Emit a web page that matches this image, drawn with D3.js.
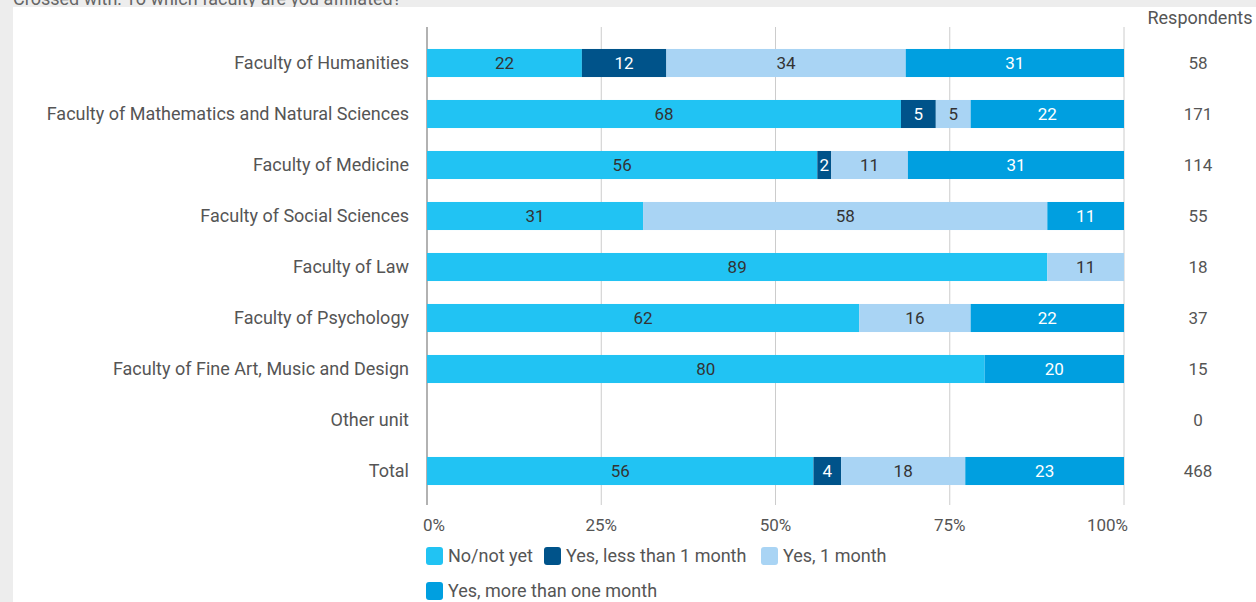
<!DOCTYPE html>
<html><head><meta charset="utf-8">
<script src="https://cdn.jsdelivr.net/npm/d3@7/dist/d3.min.js"></script>
<style>
html,body{margin:0;padding:0;background:#ededed;}
svg{display:block;font-family:Roboto,"Noto Sans",sans-serif;}
</style></head>
<body>
<svg id="chart" width="1256" height="602"></svg>
<script>
const categories = ["Faculty of Humanities","Faculty of Mathematics and Natural Sciences","Faculty of Medicine","Faculty of Social Sciences","Faculty of Law","Faculty of Psychology","Faculty of Fine Art, Music and Design","Other unit","Total"];
const seriesNames = ["No/not yet","Yes, less than 1 month","Yes, 1 month","Yes, more than one month"];
const noNotYet     = [22,68,56,31,89,62,80,0,56];
const lessThan1    = [12,5,2,0,0,0,0,0,4];
const oneMonth     = [34,5,11,58,11,16,0,0,18];
const moreThan1    = [31,22,31,11,0,22,20,0,23];
const respondents  = [58,171,114,55,18,37,15,0,468];
const tickValues   = [0,0.25,0.5,0.75,1];
const tickLabels   = ["0%","25%","50%","75%","100%"];
const title = "Crossed with: To which faculty are you affiliated?";

const colors = ["#21c3f3","#00538a","#a9d4f4","#009fe0"];
const textColors = ["#333333","#ffffff","#333333","#ffffff"];

const svg = d3.select("#chart");
svg.append("text").attr("x",13).attr("y",5).attr("font-size",18).attr("fill","#666").text(title);
svg.append("rect").attr("x",13).attr("y",7).attr("width",1256-13).attr("height",602-7).attr("fill","#ffffff");

const x = d3.scaleLinear().domain([0,1]).range([427,1124]);
const y = d3.scaleBand().domain(categories).range([37.5,496.5]).paddingInner(0.45).paddingOuter(0.225);

// gridlines
svg.append("g").selectAll("line").data(tickValues).join("line")
  .attr("x1",d=>x(d)).attr("x2",d=>x(d)).attr("y1",27).attr("y2",505)
  .attr("stroke",(d,i)=>i===0?"#999":"#cccccc").attr("stroke-width",(d,i)=>i===0?1.5:1);

// tick labels
svg.append("g").selectAll("text").data(tickValues).join("text")
  .attr("x",d=>x(d)).attr("y",531)
  .attr("text-anchor",(d,i)=>i===0?"start":(i===tickValues.length-1?"end":"middle"))
  .attr("dx",(d,i)=>i===0?-4:(i===tickValues.length-1?4:0))
  .attr("font-size",17).attr("fill","#555").text((d,i)=>tickLabels[i]);

// stacked data
const rows = categories.map((c,i)=>{
  const vals=[noNotYet[i],lessThan1[i],oneMonth[i],moreThan1[i]];
  const sum=d3.sum(vals);
  let acc=0;
  return vals.map((v,k)=>{const s=sum?acc/sum:0; acc+=v; return {cat:c,k,v,x0:s,x1:sum?acc/sum:0};});
});
const segs = rows.flat().filter(d=>d.v>0);

svg.append("g").selectAll("rect").data(segs).join("rect")
  .attr("x",d=>x(d.x0)).attr("width",d=>x(d.x1)-x(d.x0))
  .attr("y",d=>y(d.cat)).attr("height",y.bandwidth())
  .attr("fill",d=>colors[d.k]);

svg.append("g").selectAll("text").data(segs).join("text")
  .attr("x",d=>(x(d.x0)+x(d.x1))/2).attr("y",d=>y(d.cat)+y.bandwidth()/2)
  .attr("dy","0.35em").attr("text-anchor","middle").attr("font-size",17)
  .attr("fill",d=>textColors[d.k]).text(d=>d.v);

// category labels
svg.append("g").selectAll("text").data(categories).join("text")
  .attr("x",409).attr("y",d=>y(d)+y.bandwidth()/2).attr("dy","0.35em")
  .attr("text-anchor","end").attr("font-size",18).attr("fill","#555").text(d=>d);

// respondents
svg.append("text").attr("x",1200).attr("y",24).attr("text-anchor","middle")
  .attr("font-size",18).attr("fill","#555").text("Respondents");
svg.append("g").selectAll("text").data(categories).join("text")
  .attr("x",1198).attr("y",d=>y(d)+y.bandwidth()/2).attr("dy","0.35em")
  .attr("text-anchor","middle").attr("font-size",17).attr("fill","#555")
  .text((d,i)=>respondents[i]);

// legend
const legendPos = [{x:426,y:547},{x:544,y:547},{x:761,y:547},{x:426,y:582}];
const lg = svg.append("g").selectAll("g").data(seriesNames).join("g")
  .attr("transform",(d,i)=>`translate(${legendPos[i].x},${legendPos[i].y})`);
lg.append("rect").attr("width",17).attr("height",18).attr("rx",3).attr("fill",(d,i)=>colors[i]);
lg.append("text").attr("x",22).attr("y",9).attr("dy","0.35em").attr("font-size",18).attr("fill","#555").text(d=>d);
</script>
</body></html>
